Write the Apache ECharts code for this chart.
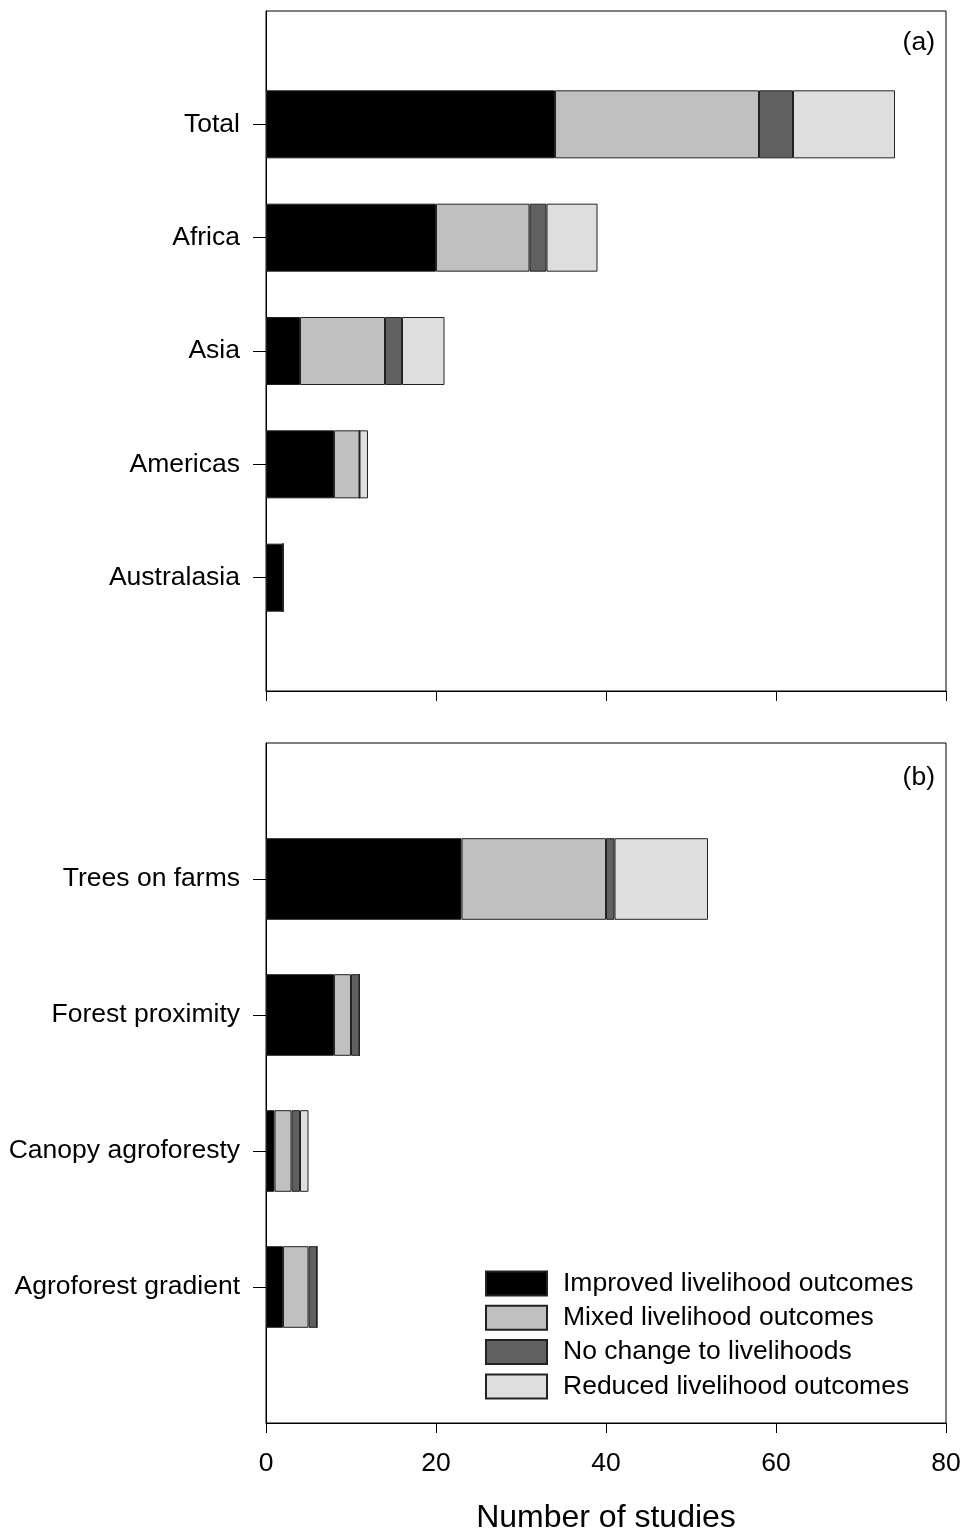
<!DOCTYPE html>
<html>
<head>
<meta charset="utf-8">
<script src="https://cdn.jsdelivr.net/npm/echarts@6/dist/echarts.min.js"></script>
<style>
  html, body { margin: 0; padding: 0; background: #fff; }
  #chart { width: 966px; height: 1533px; }
</style>
</head>
<body>
<div id="chart"></div>
<script>
// Panel (a): outcomes by region
const regions = ['', 'Total', 'Africa', 'Asia', 'Americas', 'Australasia', ''];
const regionImproved = [null, 34, 20, 4, 8, 2, null];
const regionMixed    = [null, 24, 11, 10, 3, 0, null];
const regionNoChange = [null, 4, 2, 2, 0, 0, null];
const regionReduced  = [null, 12, 6, 5, 1, 0, null];

// Panel (b): outcomes by tree-cover type
const treeTypes = ['', 'Trees on farms', 'Forest proximity', 'Canopy agroforesty', 'Agroforest gradient', ''];
const typeImproved = [null, 23, 8, 1, 2, null];
const typeMixed    = [null, 17, 2, 2, 3, null];
const typeNoChange = [null, 1, 1, 1, 1, null];
const typeReduced  = [null, 11, 0, 1, 0, null];

const outcomeNames = ['Improved livelihood outcomes', 'Mixed livelihood outcomes',
                      'No change to livelihoods', 'Reduced livelihood outcomes'];
const outcomeColors = ['#000000', '#c0c0c0', '#606060', '#dedede'];
const xTicks = [0, 20, 40, 60, 80];

const FONT = 'Liberation Sans, Arial, sans-serif';
const FS = 26.5;

function makeYAxis(gridIndex, cats) {
  return {
    type: 'category', gridIndex: gridIndex, data: cats, inverse: true,
    boundaryGap: false,
    axisLine: { show: true, lineStyle: { color: '#000', width: 1 } },
    axisTick: { show: true, length: 13, lineStyle: { color: '#000' },
      interval: function (i, v) { return v !== ''; } },
    axisLabel: { margin: 26, fontSize: FS, color: '#000', fontFamily: FONT,
      interval: 0 },
    splitLine: { show: false }
  };
}

function makeXAxis(gridIndex, showLabels) {
  return {
    type: 'value', gridIndex: gridIndex, min: xTicks[0], max: xTicks[xTicks.length - 1], interval: 20,
    axisLine: { show: true, lineStyle: { color: '#000', width: 1 } },
    axisTick: { show: true, length: 10, lineStyle: { color: '#000' } },
    axisLabel: { show: showLabels, margin: 27, fontSize: FS, color: '#000', fontFamily: FONT },
    splitLine: { show: false },
    name: showLabels ? 'Number of studies' : '',
    nameLocation: 'middle', nameGap: 79,
    nameTextStyle: { fontSize: 32, color: '#000', fontFamily: FONT }
  };
}

function barSeries(idx, gridIdx, data) {
  return {
    name: outcomeNames[idx], type: 'bar', stack: 'p' + gridIdx,
    xAxisIndex: gridIdx, yAxisIndex: gridIdx,
    barWidth: '60%', data: data,
    itemStyle: { color: outcomeColors[idx], borderColor: '#222', borderWidth: 1 },
    emphasis: { disabled: true }, animation: false
  };
}

const chart = echarts.init(document.getElementById('chart'), null, { renderer: 'canvas' });
chart.setOption({
  animation: false,
  backgroundColor: '#fff',
  grid: [
    { left: 266, top: 11, width: 680, height: 680, show: true, borderColor: '#000', borderWidth: 1,
      containLabel: false, outerBoundsMode: 'none' },
    { left: 266, top: 743, width: 680, height: 680, show: true, borderColor: '#000', borderWidth: 1,
      containLabel: false, outerBoundsMode: 'none' }
  ],
  title: [
    { text: '(a)', right: 26, top: 24, textStyle: { fontSize: FS, fontWeight: 'normal', color: '#000', fontFamily: FONT } },
    { text: '(b)', right: 26, top: 759, textStyle: { fontSize: FS, fontWeight: 'normal', color: '#000', fontFamily: FONT } }
  ],
  legend: {
    orient: 'vertical', left: 480, top: 1265, itemWidth: 61, itemHeight: 24, itemGap: 7.3,
    icon: 'rect', align: 'left',
    data: outcomeNames,
    textStyle: { fontSize: FS, lineHeight: 26, color: '#000', fontFamily: FONT, padding: [0, 0, 0, 11] },
    selectedMode: false
  },
  xAxis: [makeXAxis(0, false), makeXAxis(1, true)],
  yAxis: [makeYAxis(0, regions), makeYAxis(1, treeTypes)],
  series: [
    barSeries(0, 0, regionImproved), barSeries(1, 0, regionMixed),
    barSeries(2, 0, regionNoChange), barSeries(3, 0, regionReduced),
    barSeries(0, 1, typeImproved), barSeries(1, 1, typeMixed),
    barSeries(2, 1, typeNoChange), barSeries(3, 1, typeReduced)
  ]
});
</script>
</body>
</html>
